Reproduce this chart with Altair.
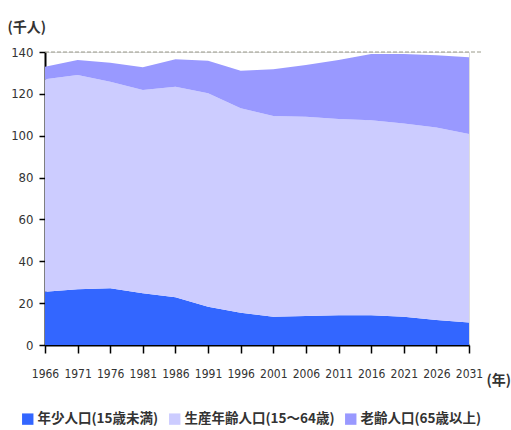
import altair as alt
import pandas as pd

years = [1966, 1971, 1976, 1981, 1986, 1991, 1996, 2001, 2006, 2011, 2016, 2021, 2026, 2031]
young = [25.5, 26.6, 27.1, 24.7, 22.8, 18.3, 15.4, 13.5, 13.9, 14.2, 14.2, 13.5, 12.0, 10.7]
working_total = [127.0, 129.0, 125.8, 121.8, 123.4, 120.3, 113.1, 109.4, 109.1, 108.0, 107.4, 105.8, 103.9, 100.8]
total = [133.0, 136.2, 134.9, 132.7, 136.5, 135.8, 131.0, 131.7, 133.8, 136.2, 139.0, 139.0, 138.5, 137.5]

series = ["年少人口(15歳未満)", "生産年齢人口(15～64歳)", "老齢人口(65歳以上)"]
colors = ["#3366FF", "#CCCCFF", "#9999FF"]

rows = []
for i, y in enumerate(years):
    vals = [young[i], working_total[i] - young[i], total[i] - working_total[i]]
    for k, s in enumerate(series):
        rows.append({"year": y, "series": s, "value": round(vals[k], 2), "ord": k})
df = pd.DataFrame(rows)

cjk = "Noto Sans CJK JP"
num = "'Liberation Sans Narrow', 'DejaVu Sans Condensed', 'Liberation Sans', sans-serif"

area = alt.Chart(df).mark_area(interpolate="linear").encode(
    x=alt.X("year:Q",
            scale=alt.Scale(domain=[1966, 2031], nice=False, zero=False),
            axis=alt.Axis(values=years, format="d", grid=False,
                          domainColor="#000", domainWidth=2,
                          tickColor="#000", tickWidth=1.5, tickSize=8,
                          labelFont=num, labelFontSize=12, labelColor="#333",
                          labelPadding=15, labelFlush=False,
                          title="(年)", titleFont=cjk, titleFontSize=14,
                          titleFontWeight="bold", titleColor="#333",
                          titleAlign="left", titleX=441, titleY=42,
                          titleBaseline="bottom")),
    y=alt.Y("value:Q", stack="zero",
            scale=alt.Scale(domain=[0, 140], nice=False),
            axis=alt.Axis(values=[0, 20, 40, 60, 80, 100, 120, 140], grid=False,
                          domainColor="#000", domainWidth=2,
                          tickColor="#000", tickWidth=1.5, tickSize=6,
                          labelFont=num, labelFontSize=13, labelColor="#333",
                          labelPadding=6,
                          title="(千人)", titleFont=cjk, titleFontSize=14,
                          titleFontWeight="bold", titleColor="#333",
                          titleAngle=0, titleAlign="left", titleBaseline="middle",
                          titleX=-38, titleY=-25)),
    color=alt.Color("series:N",
                    scale=alt.Scale(domain=series, range=colors),
                    legend=alt.Legend(orient="none", direction="horizontal",
                                      legendX=-24, legendY=360, title=None,
                                      symbolType="square", symbolSize=130,
                                      symbolStrokeWidth=0, symbolOpacity=1,
                                      labelFont=cjk, labelFontSize=13.5,
                                      labelFontWeight="bold",
                                      labelColor="#333", labelOffset=3,
                                      columnPadding=9)),
    order=alt.Order("ord:Q", sort="ascending"),
)

ref = alt.Chart(pd.DataFrame({"v": [140]})).mark_rule(
    strokeDash=[4, 2], color="#9a9a8a", strokeWidth=1
).encode(y="v:Q", x=alt.value(0), x2=alt.value(436))

chart = alt.layer(area, ref).properties(
    width=424, height=293,
    autosize=alt.AutoSizeParams(type="none"),
    padding={"left": 45, "top": 52, "right": 42, "bottom": 85},
).configure_view(stroke=None).configure(background="white")

chart.save("out.html", embed_options={"renderer": "svg", "actions": False})
